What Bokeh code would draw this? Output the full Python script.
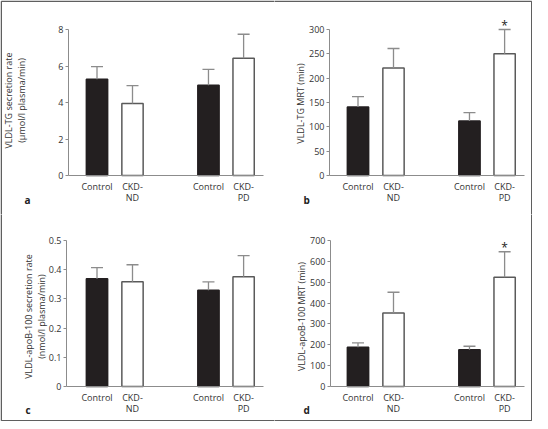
import math
from bokeh.plotting import figure
from bokeh.layouts import column, row
from bokeh.models import (Range1d, FixedTicker, Whisker, TeeHead, ColumnDataSource,
                          NumeralTickFormatter)
from bokeh.core.properties import value
from bokeh.embed import file_html
from bokeh.resources import INLINE

# ---- data ----
groups = ["Control", "CKD-\nND", "Control", "CKD-\nPD"]
is_ckd = [False, True, False, True]
rate_significant = [False, False, False, False]
mrt_significant = [False, False, False, True]

tg_rate_mean = [5.27, 3.95, 4.95, 6.42]
tg_rate_sd = [0.70, 0.97, 0.87, 1.32]
tg_rate_ticks = [0, 2, 4, 6, 8]

tg_mrt_mean = [141, 221, 112, 250]
tg_mrt_sd = [21, 40, 17, 50]
tg_mrt_ticks = [0, 50, 100, 150, 200, 250, 300]

apob_rate_mean = [0.369, 0.359, 0.330, 0.376]
apob_rate_sd = [0.038, 0.058, 0.028, 0.072]
apob_rate_ticks = [0, 0.1, 0.2, 0.3, 0.4, 0.5]

apob_mrt_mean = [188, 352, 176, 524]
apob_mrt_sd = [21, 100, 17, 122]
apob_mrt_ticks = [0, 100, 200, 300, 400, 500, 600, 700]

FONT = "Open Sans"
AXIS_COLOR = "#8c8c8c"
TEXT_COLOR = "#333333"
BAR_DARK = "#231f20"
BAR_EDGE = "#5a5a5a"
FRAME_COLOR = "#5f5f5f"
XPOS = [100, 200, 414, 513]      # bar slots (layout units)
PX = 0.355                        # pixels per layout unit
PAGE_W, PAGE_H = 532, 421


def panel(means, sds, sig, ticks, ylabel, letter, geom, fmt=None):
    # geom: figure rect (fx, fy, fw, fh) and axis geometry in page pixels
    fx, fy, fw, fh = geom["fig"]
    x0, x1, y0, yt, b1 = geom["x0"], geom["x1"], geom["y0"], geom["yt"], geom["b1"]
    top = ticks[-1]
    upp = top / (y0 - yt)                       # data units per pixel (y)
    xs = XPOS[0] - (b1 - fx) / PX
    xdata = lambda px: xs + (px - fx) / PX
    ydata = lambda py: (y0 - py) * upp

    p = figure(width=fw, height=fh, output_backend="svg", toolbar_location=None,
               min_border=0, min_border_left=0, min_border_right=0,
               min_border_top=0, min_border_bottom=0,
               x_range=Range1d(xdata(fx), xdata(fx + fw)),
               y_range=Range1d(ydata(fy + fh), ydata(fy)))
    p.outline_line_color = None
    p.grid.visible = False

    # outer figure frame (page border), drawn on the edges this panel touches
    fl, ft, fr, fb = 0.75, 0.75, PAGE_W - 0.75, PAGE_H - 0.75
    edges = []
    if fx == 0:
        edges.append(((fl, fl), (ft, fb)))
    if fy == 0:
        edges.append(((fl, fr), (ft, ft)))
    if fx + fw == PAGE_W:
        edges.append(((fr, fr), (ft, fb)))
    if fy + fh == PAGE_H:
        edges.append(((fl, fr), (fb, fb)))
    for (ex, ey) in edges:
        p.line(x=[xdata(v) for v in ex], y=[ydata(v) for v in ey],
               line_color=FRAME_COLOR, line_width=1.5)

    tops = [m + s for m, s in zip(means, sds)]
    src = ColumnDataSource(dict(
        x=XPOS, mean=means, top=tops,
        fill=["white" if c else BAR_DARK for c in is_ckd],
        line=[BAR_EDGE if c else BAR_DARK for c in is_ckd],
    ))
    w_src = ColumnDataSource(dict(x=XPOS, mean=means, top=tops))
    wh = Whisker(source=w_src, base="x", lower="mean", upper="top",
                 dimension="height", line_color=AXIS_COLOR, line_width=1.3,
                 upper_head=TeeHead(size=12, line_color=AXIS_COLOR, line_width=1.3),
                 lower_head=None, level="annotation")
    p.add_layout(wh)
    p.vbar(x="x", width=60, top="mean", bottom=0, source=src,
           fill_color="fill", line_color="line", line_width=1.5)

    sx = [x for x, s in zip(XPOS, sig) if s]
    sy = [t for t, s in zip(tops, sig) if s]
    if sx:
        p.text(x=sx, y=sy, text=["*"] * len(sx), text_align="center",
               text_baseline="alphabetic", text_font=value(FONT),
               text_font_size="12px", text_color="#222222", y_offset=-4)

    # panel letter
    lx, ly = geom["letter"]
    p.text(x=[xdata(lx)], y=[ydata(ly)], text=[letter], text_align="left",
           text_baseline="alphabetic", text_font=value(FONT),
           text_font_size="10px", text_font_style="bold", text_color="#222222")

    # y-axis title (rotated, centred on the value axis)
    tx, ty = geom["title"]
    p.text(x=[xdata(tx)], y=[ydata(ty)], text=[ylabel], angle=math.pi / 2,
           text_align="center", text_baseline="middle", text_font=value(FONT),
           text_font_size="9px", text_color=TEXT_COLOR, text_line_height=1.05)

    yax = p.yaxis[0]
    yax.fixed_location = xdata(x0)
    yax.bounds = (0, top)
    yax.ticker = FixedTicker(ticks=ticks)
    if fmt:
        yax.formatter = fmt
    yax.major_tick_out = 3
    yax.major_tick_in = 0
    yax.major_tick_line_color = AXIS_COLOR
    yax.minor_tick_line_color = None
    yax.major_label_standoff = 2

    xax = p.xaxis[0]
    xax.fixed_location = 0
    xax.bounds = (xdata(x0), xdata(x1))
    xax.ticker = FixedTicker(ticks=XPOS)
    xax.major_label_overrides = {x: g for x, g in zip(XPOS, groups)}
    xax.major_tick_line_color = None
    xax.minor_tick_line_color = None
    xax.major_label_standoff = -2
    xax.major_label_text_line_height = 0.9

    for ax in (xax, yax):
        ax.axis_line_color = AXIS_COLOR
        ax.axis_line_width = 1
        ax.major_label_text_font = FONT
        ax.major_label_text_font_size = "9px"
        ax.major_label_text_color = TEXT_COLOR
    return p


GEOM_A = dict(fig=(0, 0, 274, 214), x0=68, x1=263, y0=175, yt=29, b1=96.5,
              letter=(24, 199.5), title=(14.5, 100))
GEOM_B = dict(fig=(274, 0, 258, 214), x0=329, x1=524, y0=175, yt=29, b1=357.5,
              letter=(303, 199.5), title=(300, 103))
GEOM_C = dict(fig=(0, 214, 274, 207), x0=66, x1=263, y0=386, yt=240, b1=96.5,
              letter=(25, 409), title=(34.5, 316))
GEOM_D = dict(fig=(274, 214, 258, 207), x0=330, x1=524, y0=386, yt=240, b1=357.5,
              letter=(303, 409), title=(300.5, 316))

pa = panel(tg_rate_mean, tg_rate_sd, rate_significant, tg_rate_ticks,
           "VLDL-TG secretion rate\n(µmol/l plasma/min)", "a", GEOM_A)
pb = panel(tg_mrt_mean, tg_mrt_sd, mrt_significant, tg_mrt_ticks,
           "VLDL-TG MRT (min)", "b", GEOM_B)
pc = panel(apob_rate_mean, apob_rate_sd, rate_significant, apob_rate_ticks,
           "VLDL-apoB-100 secretion rate\n(nmol/l plasma/min)", "c", GEOM_C,
           fmt=NumeralTickFormatter(format="0.[0]"))
pd_ = panel(apob_mrt_mean, apob_mrt_sd, mrt_significant, apob_mrt_ticks,
            "VLDL-apoB-100 MRT (min)", "d", GEOM_D)

layout = column(row(pa, pb), row(pc, pd_))
open("out.html", "w").write(file_html(layout, INLINE))
